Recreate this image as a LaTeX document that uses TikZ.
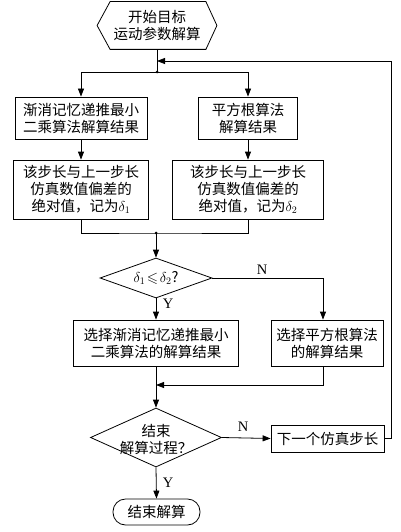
\documentclass[tikz,border=0pt]{standalone}
\usepackage{amssymb}
\usepackage{fontspec}
\setmainfont{Liberation Serif}
\newfontfamily\cjk{Noto Sans CJK SC}
\usetikzlibrary{arrows.meta,shapes.geometric,calc}
\begin{document}
\begin{tikzpicture}[x=1pt,y=-1pt,
  line width=0.8pt,
  every node/.style={font=\cjk\fontsize{14.5}{17}\selectfont, align=center, inner sep=0pt},
  box/.style={draw, rectangle},
  dec/.style={draw, diamond, aspect=2.5},
  arr/.style={-{Triangle[length=8pt,width=6pt]}},
  lbl/.style={font=\fontsize{14.5}{17}\selectfont},
  dot/.style={circle, fill, minimum size=3pt, inner sep=0pt}]
\useasboundingbox (0,0) rectangle (401,532);

% start hexagon
\node[minimum width=119, minimum height=47] (start) at (157,25.5) {开始目标\\运动参数解算};
\draw (start.west) -- ([xshift=13pt]start.north west) -- ([xshift=-11pt]start.north east)
  -- (start.east) -- ([xshift=-11pt]start.south east) -- ([xshift=13pt]start.south west) -- cycle;

\node[box, minimum width=132, minimum height=42] (b1) at (81,118) {渐消记忆递推最小\\二乘算法解算结果};
\node[box, minimum width=99, minimum height=42] (b2) at (248,118) {平方根算法\\解算结果};
\node[box, minimum width=135, minimum height=59] (b3) at (81,189.5) {该步长与上一步长\\仿真数值偏差的\\绝对值，记为$\delta_1$};
\node[box, minimum width=151, minimum height=59] (b4) at (248,189.5) {该步长与上一步长\\仿真数值偏差的\\绝对值，记为$\delta_2$};

\node[dec, minimum width=112, minimum height=40] (d1) at (156,278) {};
\node (d1t) at (d1) {$\delta_1\!\leqslant\!\delta_2$?};

\node[box, minimum width=165, minimum height=46] (b5) at (156,343) {选择渐消记忆递推最小\\二乘算法的解算结果};
\node[box, minimum width=112, minimum height=46] (b6) at (327,343) {选择平方根算法\\的解算结果};

\node[dec, minimum width=131, minimum height=59] (d2) at (156,437.5) {};
\node (d2t) at ([yshift=-2pt]d2) {结束\\解算过程？};

\node[box, minimum width=113, minimum height=27] (b7) at (327.5,438.5) {下一个仿真步长};

\node[draw, rounded corners=12.5pt, minimum width=87, minimum height=26] (end) at (156.5,512) {结束解算};

% coordinates
\coordinate (j1) at (157,72);
\coordinate (fb) at (157,61);
\coordinate (j2) at (156,233);
\coordinate (m2) at (156,385);

\draw (start.south) -- (j1);
\draw[arr] (j1) -| (b1.north);
\draw[arr] (j1) -| (b2.north);
\node[dot] (dj1) at (j1) {};
\draw[arr] (b1) -- (b3);
\draw[arr] (b2) -- (b4);
\draw (b3.south) |- (j2) -| (b4.south);
\node[dot] (dj2) at (j2) {};
\draw[arr] (j2) -- (d1.north);
\draw[arr] (d1.east) -| ([xshift=-4pt]b6.north);
\node[lbl] (n1) at (262,270) {N};
\draw[arr] (d1.south) -- (b5.north);
\node[lbl] (y1) at (168,304) {Y};
\draw[arr] (b5.south) -- (d2.north);
\draw[arr] ([xshift=-4pt]b6.south) |- (m2);
\draw[arr] (d2.east) -- (b7.west);
\node[lbl] (n2) at (243,427) {N};
\draw[arr] (b7.east) -- ++(7,0) |- (fb);
\draw[arr] (d2.south) -- (end.north);
\node[lbl] (y2) at (168,483) {Y};
\end{tikzpicture}
\end{document}
